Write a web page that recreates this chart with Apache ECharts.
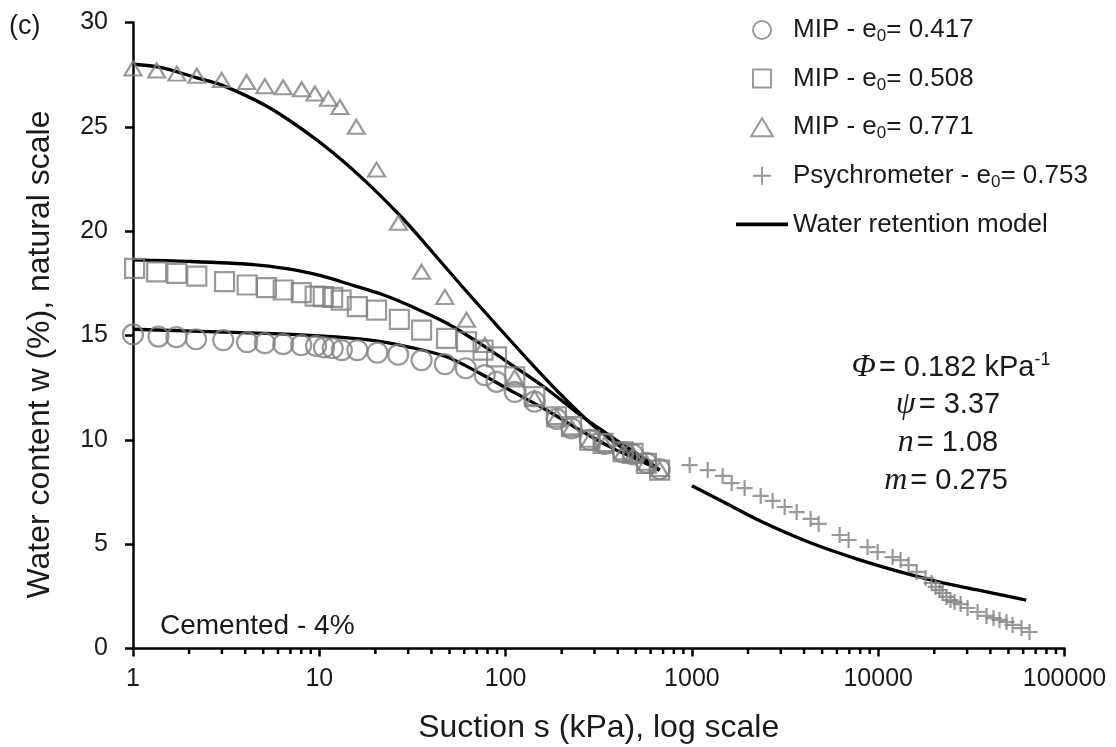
<!DOCTYPE html>
<html>
<head>
<meta charset="utf-8">
<script src="https://cdn.jsdelivr.net/npm/echarts@6/dist/echarts.min.js"></script>
<style>
  html, body { margin: 0; padding: 0; background: #fff; }
  #chart { width: 1116px; height: 747px; }
</style>
</head>
<body>
<div id="chart"></div>
<script>
// ---- Measured data: suction s (kPa) and water content w (%) ----
const mip417S = [1.0, 1.37, 1.71, 2.18, 3.05, 4.1, 5.1, 6.4, 8.0, 9.6, 10.6, 11.8, 13.2, 16.0, 20.5, 26.5, 35.4, 47.2, 61.1, 77.3, 89.4, 112, 143, 188, 226, 283, 340, 427, 483, 570, 671];
const mip417W = [15.05, 14.95, 14.92, 14.82, 14.78, 14.68, 14.63, 14.59, 14.54, 14.5, 14.43, 14.39, 14.3, 14.3, 14.18, 14.08, 13.82, 13.63, 13.43, 13.1, 12.78, 12.3, 11.83, 11.0, 10.55, 10.0, 9.8, 9.4, 9.3, 8.9, 8.6];

const mip508S = [1.02, 1.34, 1.72, 2.2, 3.1, 4.1, 5.2, 6.4, 8.0, 9.5, 10.5, 11.8, 13.1, 16.0, 20.3, 26.9, 35.4, 48.2, 61.7, 75.7, 89.4, 112, 143.6, 187.6, 225.7, 283, 333.6, 427, 483, 570, 671];
const mip508W = [18.22, 18.05, 17.98, 17.85, 17.58, 17.42, 17.29, 17.18, 17.05, 16.89, 16.86, 16.83, 16.7, 16.38, 16.22, 15.77, 15.26, 14.86, 14.7, 14.3, 13.98, 13.02, 12.07, 11.1, 10.63, 9.99, 9.83, 9.43, 9.35, 8.87, 8.55];

const mip771S = [1.0, 1.34, 1.72, 2.2, 2.99, 4.07, 5.1, 6.4, 8.04, 9.47, 11.2, 12.9, 15.8, 20.3, 26.6, 35.4, 47.2, 61.7, 77.3, 112, 143, 188, 226, 283, 341, 427, 483, 570, 671];
const mip771W = [27.8, 27.7, 27.55, 27.45, 27.25, 27.15, 26.95, 26.9, 26.8, 26.6, 26.35, 25.95, 25.0, 22.95, 20.4, 18.05, 16.85, 15.75, 14.55, 13.0, 12.0, 11.1, 10.6, 10.0, 9.8, 9.4, 9.3, 8.9, 8.6];

const psychroS = [973, 1216, 1463, 1635, 1919, 2339, 2713, 3148, 3650, 4337, 4790, 6208, 6936, 8770, 9930, 11950, 13190, 14560, 16080, 17960, 19350, 20330, 21340, 22150, 23270, 24440, 25680, 27690, 30170, 34150, 38170, 41590, 44790, 48840, 52620, 58750, 64880];
const psychroW = [8.79, 8.55, 8.27, 7.93, 7.69, 7.31, 7.07, 6.78, 6.54, 6.21, 5.97, 5.44, 5.20, 4.86, 4.62, 4.38, 4.24, 4.00, 3.67, 3.38, 3.14, 2.95, 2.80, 2.66, 2.47, 2.32, 2.23, 2.13, 1.94, 1.75, 1.56, 1.46, 1.37, 1.27, 1.13, 0.98, 0.79];

// ---- Water retention model curves ----
const model771S = [1, 1.4, 2.2, 3.0, 5.2, 7.9, 11.9, 17.9, 27.1, 34.6, 59.1, 89.4, 134.8, 203, 307, 464, 671];
const model771W = [28.0, 27.85, 27.35, 27.0, 26.0, 24.95, 23.75, 22.35, 20.75, 19.7, 17.3, 15.5, 13.74, 12.07, 10.55, 9.35, 8.55];

const model508S = [1, 2, 4.42, 6.68, 10.07, 15.2, 22, 32, 48.2, 72.7, 109.7, 165.7, 250, 377, 570, 671];
const model508W = [18.62, 18.55, 18.4, 18.2, 17.88, 17.4, 16.95, 16.35, 15.6, 14.62, 13.55, 12.45, 11.2, 10.1, 9.03, 8.55];

const model417S = [1, 5.2, 10, 15.2, 21, 30, 48.2, 72.7, 109.7, 165.7, 250, 377, 570, 671];
const model417W = [15.3, 15.1, 14.98, 14.86, 14.72, 14.46, 13.98, 13.19, 12.3, 11.43, 10.47, 9.59, 8.87, 8.55];

const modelPsyS = [1000, 1531, 2311, 4286, 7943, 14720, 22230, 33590, 41230, 62300];
const modelPsyW = [7.8, 6.95, 6.12, 5.08, 4.25, 3.55, 3.15, 2.82, 2.65, 2.32];

// ---- Axis ticks and labels ----
const xTickLabels = ['1', '10', '100', '1000', '10000', '100000'];
const yTickLabels = ['0', '5', '10', '15', '20', '25', '30'];
const minorTickValues = [];
for (let d = 1; d < 100000; d *= 10) {
  for (let k = 2; k <= 9; k++) minorTickValues.push(k * d);
}

const seriesNames = {
  c417: 'MIP - e0= 0.417',
  c508: 'MIP - e0= 0.508',
  c771: 'MIP - e0= 0.771',
  psy: 'Psychrometer - e0= 0.753',
  model: 'Water retention model'
};

const FONT = 'Liberation Sans, Arial, sans-serif';
const SERIF = 'Liberation Serif, Times New Roman, serif';
const GREY = '#808080';
const INK = '#1a1a1a';

const zip = (xs, ys) => xs.map((x, i) => [x, ys[i]]);

const markerStyle = { color: 'rgba(0,0,0,0)', borderColor: GREY, borderWidth: 2.2 };
const modelLine = (xs, ys) => ({
  name: seriesNames.model,
  type: 'line',
  data: zip(xs, ys),
  symbol: 'none',
  smooth: 0.3,
  lineStyle: { color: '#000', width: 3.3 },
  itemStyle: { color: '#000' },
  z: 3
});

// legend icons keep their aspect when given as paths
const ICON_SQUARE = 'path://M0,0L10,0L10,10L0,10Z';
const ICON_TRIANGLE = 'path://M6,0L12,10L0,10Z';
const ICON_LINE = 'path://M0,0L52,0L52,3.6L0,3.6Z';

const paramRich = {
  i: { fontSize: 32, fontFamily: SERIF, fontStyle: 'italic', fill: INK, lineHeight: 34, padding: [0, 3, 0, 0] },
  t: { fontSize: 29, fontFamily: FONT, fill: INK, lineHeight: 34 },
  p: { fontSize: 18, fontFamily: FONT, fill: INK, lineHeight: 18, verticalAlign: 'top' }
};

const chart = echarts.init(document.getElementById('chart'), null, { renderer: 'canvas' });

chart.setOption({
  animation: false,
  backgroundColor: '#fff',
  textStyle: { fontFamily: FONT },
  grid: { left: 133, right: 51.5, top: 22.5, bottom: 98.5, containLabel: false, outerBoundsMode: 'none' },
  xAxis: {
    type: 'log',
    logBase: 10,
    min: 1,
    max: 100000,
    axisLine: { show: true, onZero: false, lineStyle: { color: '#000', width: 2.5 } },
    axisTick: { show: true, length: 8, lineStyle: { color: '#000', width: 2.5 } },
    minorTick: { show: false },
    splitLine: { show: false },
    axisLabel: {
      fontSize: 25, color: INK, margin: 18, fontFamily: FONT,
      formatter: v => xTickLabels[Math.round(Math.log10(v))]
    },
    name: 'Suction s (kPa), log scale',
    nameLocation: 'middle',
    nameGap: 64,
    nameTextStyle: { fontSize: 32, color: INK, fontFamily: FONT }
  },
  yAxis: {
    type: 'value',
    min: 0,
    max: 30,
    interval: 5,
    axisLine: { show: true, lineStyle: { color: '#000', width: 2.5 } },
    axisTick: { show: true, length: 8, lineStyle: { color: '#000', width: 2.5 } },
    splitLine: { show: false },
    axisLabel: {
      fontSize: 25, color: INK, margin: 25, fontFamily: FONT,
      formatter: v => yTickLabels[Math.round(v / 5)]
    },
    name: 'Water content w (%), natural scale',
    nameLocation: 'middle',
    nameGap: 77,
    nameRotate: 90,
    nameTextStyle: { fontSize: 32, color: INK, fontFamily: FONT, padding: [0, 38, 0, 0] }
  },
  legend: {
    orient: 'vertical',
    left: 731,
    top: 12,
    itemWidth: 52,
    itemHeight: 18,
    itemGap: 20.6,
    data: [
      { name: seriesNames.c417 },
      { name: seriesNames.c508, icon: ICON_SQUARE },
      { name: seriesNames.c771, icon: ICON_TRIANGLE },
      { name: seriesNames.psy },
      { name: seriesNames.model, icon: ICON_LINE, itemStyle: { color: '#000', borderWidth: 0 } }
    ],
    formatter: name => {
      const i = name.indexOf('e0');
      if (i < 0) return '{t|' + name + '}';
      return '{t|' + name.slice(0, i) + 'e}{s|0}{t|' + name.slice(i + 2) + '}';
    },
    textStyle: {
      color: INK,
      fontFamily: FONT,
      fontSize: 26,
      rich: {
        t: { fontSize: 26, lineHeight: 30, color: INK, fontFamily: FONT },
        s: { fontSize: 17, lineHeight: 12, verticalAlign: 'bottom', color: INK, fontFamily: FONT }
      }
    }
  },
  graphic: [
    { type: 'text', left: 9, top: 13, style: { text: '(c)', fontSize: 27, fontFamily: FONT, fill: INK } },
    { type: 'text', x: 160, y: 626, style: { text: 'Cemented - 4%', fontSize: 28, fontFamily: FONT, fill: INK, verticalAlign: 'middle' } },
    { type: 'text', x: 951, y: 368, style: { text: '{i|Φ}{t|= 0.182 kPa}{p|-1}', align: 'center', verticalAlign: 'middle', fill: INK, rich: paramRich } },
    { type: 'text', x: 948, y: 405, style: { text: '{i|ψ}{t|= 3.37}', align: 'center', verticalAlign: 'middle', fill: INK, rich: paramRich } },
    { type: 'text', x: 948, y: 443, style: { text: '{i|n}{t|= 1.08}', align: 'center', verticalAlign: 'middle', fill: INK, rich: paramRich } },
    { type: 'text', x: 946, y: 481, style: { text: '{i|m}{t|= 0.275}', align: 'center', verticalAlign: 'middle', fill: INK, rich: paramRich } }
  ],
  series: [
    // minor ticks of the log axis at 2..9 within each decade
    {
      type: 'custom',
      silent: true,
      clip: false,
      z: 5,
      data: minorTickValues.map(v => [v, 0]),
      encode: { x: 0, y: 1 },
      renderItem: (params, api) => {
        const p = api.coord([api.value(0), 0]);
        return {
          type: 'line',
          shape: { x1: p[0], y1: p[1], x2: p[0], y2: p[1] + 5.5 },
          style: { stroke: '#000', lineWidth: 2.5 }
        };
      }
    },
    modelLine(model771S, model771W),
    modelLine(model508S, model508W),
    modelLine(model417S, model417W),
    modelLine(modelPsyS, modelPsyW),
    {
      name: seriesNames.c417, type: 'scatter', data: zip(mip417S, mip417W),
      symbol: 'circle', symbolSize: 20, itemStyle: markerStyle, z: 4
    },
    {
      name: seriesNames.c508, type: 'scatter', data: zip(mip508S, mip508W),
      symbol: 'rect', symbolSize: 19, itemStyle: markerStyle, z: 4
    },
    {
      name: seriesNames.c771, type: 'scatter', data: zip(mip771S, mip771W),
      symbol: 'triangle', symbolSize: [17, 14], itemStyle: markerStyle, z: 4
    },
    {
      name: seriesNames.psy, type: 'scatter', data: zip(psychroS, psychroW),
      symbol: 'path://M0,-1L0,1M-1,0L1,0', symbolSize: 16, itemStyle: markerStyle, z: 4
    }
  ]
});
</script>
</body>
</html>
